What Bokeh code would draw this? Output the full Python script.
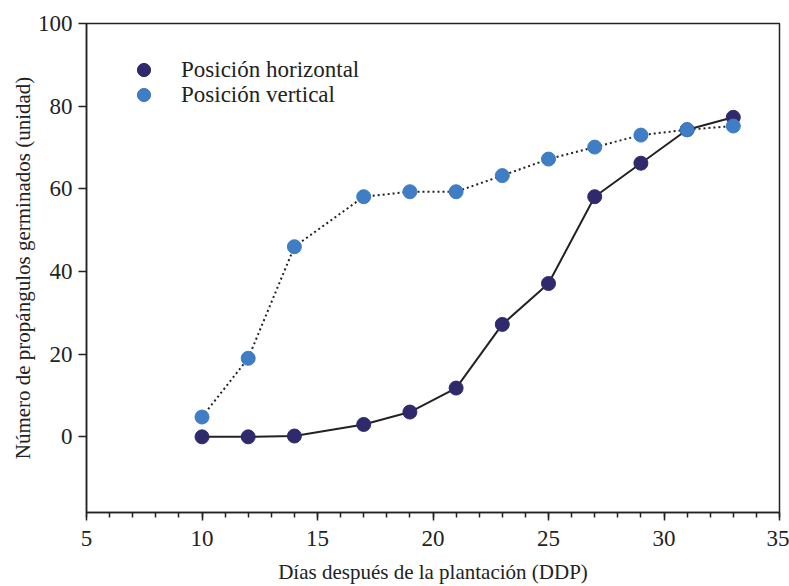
from bokeh.plotting import figure
from bokeh.models import Range1d, FixedTicker, Legend, LegendItem
from bokeh.embed import file_html
from bokeh.resources import INLINE

dias = [10, 12, 14, 17, 19, 21, 23, 25, 27, 29, 31, 33]
horizontal = [0, 0, 0.2, 3, 6, 11.8, 27.2, 37.1, 58.1, 66.2, 74.3, 77.3]
vertical = [4.8, 19.0, 46.0, 58.1, 59.3, 59.3, 63.2, 67.2, 70.1, 73.0, 74.3, 75.2]
x_ticks = [5, 10, 15, 20, 25, 30, 35]
y_ticks = [0, 20, 40, 60, 80, 100]
series_labels = ["Posición horizontal", "Posición vertical"]

FONT = "Liberation Serif"
dark = "#2e2a6c"
light = "#3f7dc4"

p = figure(width=789, height=586, output_backend="svg", toolbar_location=None,
           x_range=Range1d(5, 35), y_range=Range1d(-18.3, 100))
p.min_border_left = 86
p.min_border_right = 10
p.min_border_top = 23
p.min_border_bottom = 73
p.xgrid.visible = False
p.ygrid.visible = False
p.outline_line_color = "#222222"
p.outline_line_width = 1.5

p.line(dias, horizontal, line_color="#222222", line_width=2)
p.line(dias, vertical, line_color="#222222", line_width=2, line_dash="2 3")
r1 = p.scatter(dias, horizontal, size=14, fill_color=dark, line_color=dark)
r2 = p.scatter(dias, vertical, size=14, fill_color=light, line_color=light)

for label, rend, loc in [(series_labels[0], r1, (41, 426)), (series_labels[1], r2, (41, 401))]:
    legend = Legend(items=[LegendItem(label=label, renderers=[rend])], location=loc)
    legend.border_line_color = None
    legend.background_fill_alpha = 0
    legend.label_text_font = FONT
    legend.label_text_font_size = "23px"
    legend.label_text_color = "#222222"
    legend.glyph_width = 33
    legend.glyph_height = 33
    legend.label_height = 33
    legend.spacing = 0
    legend.label_standoff = 21
    legend.padding = 0
    legend.margin = 0
    p.add_layout(legend)

for ax in (p.xaxis[0], p.yaxis[0]):
    ax.axis_line_color = "#222222"
    ax.axis_line_width = 1.5
    ax.major_tick_line_color = "#222222"
    ax.major_tick_line_width = 1.5
    ax.minor_tick_line_color = "#222222"
    ax.minor_tick_line_width = 1.5
    ax.major_tick_out = 8
    ax.major_tick_in = 0
    ax.major_label_text_font = FONT
    ax.major_label_text_font_size = "23px"
    ax.major_label_text_color = "#222222"
    ax.axis_label_text_font = FONT
    ax.axis_label_text_font_size = "21px"
    ax.axis_label_text_font_style = "normal"
    ax.axis_label_text_color = "#222222"

p.xaxis.ticker = FixedTicker(ticks=x_ticks, minor_ticks=list(range(5, 36)))
p.xaxis.minor_tick_out = 5
p.xaxis.minor_tick_in = 0
p.xaxis.axis_label = "Días después de la plantación (DDP)"
p.xaxis.major_label_standoff = 10
p.xaxis.axis_label_standoff = 11

p.yaxis.ticker = FixedTicker(ticks=y_ticks, minor_ticks=[])
p.yaxis.axis_label = "Número de propángulos germinados (unidad)"
p.yaxis.major_label_standoff = 6
p.yaxis.axis_label_standoff = 0

open("out.html", "w").write(file_html(p, INLINE))
